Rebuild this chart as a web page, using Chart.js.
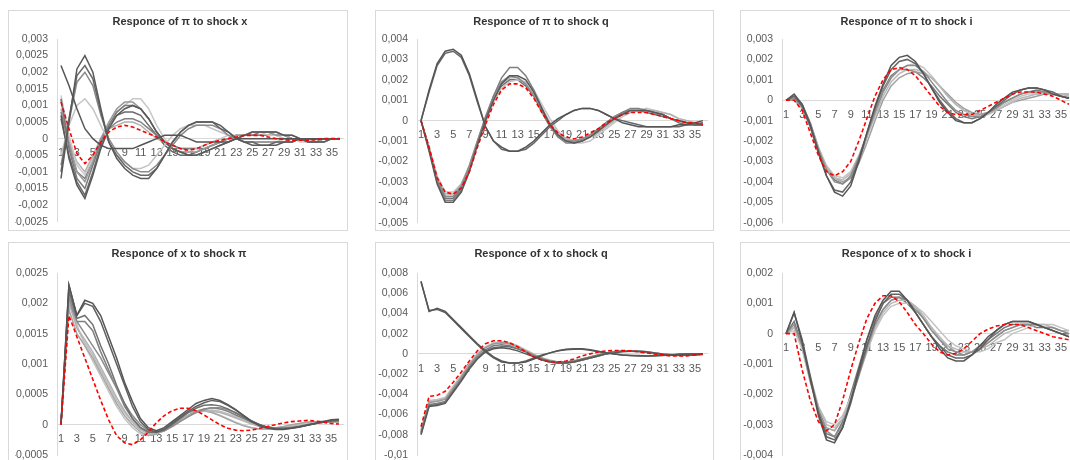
<!DOCTYPE html>
<html>
<head>
<meta charset="utf-8">
<script src="https://cdn.jsdelivr.net/npm/chart.js@4.4.1/dist/chart.umd.min.js"></script>
<style>
  body { margin: 0; background: #fff; width: 1070px; height: 460px; overflow: hidden; position: relative; }
  .frame { position: absolute; border: 1px solid #d9d9d9; box-sizing: border-box; }
  canvas { position: absolute; }
</style>
</head>
<body>
<div class="frame" style="left:8px;top:10px;width:340px;height:221px"></div>
<div class="frame" style="left:375px;top:10px;width:339px;height:221px"></div>
<div class="frame" style="left:740px;top:10px;width:338px;height:221px"></div>
<div class="frame" style="left:8px;top:242px;width:340px;height:230px"></div>
<div class="frame" style="left:375px;top:242px;width:339px;height:230px"></div>
<div class="frame" style="left:740px;top:242px;width:338px;height:230px"></div>
<canvas id="c1" width="340" height="227" style="left:8px;top:10px"></canvas>
<canvas id="c2" width="338" height="228" style="left:375px;top:10px"></canvas>
<canvas id="c3" width="338" height="228" style="left:740px;top:10px"></canvas>
<canvas id="c4" width="340" height="230" style="left:8px;top:242px"></canvas>
<canvas id="c5" width="338" height="230" style="left:375px;top:242px"></canvas>
<canvas id="c6" width="338" height="230" style="left:740px;top:242px"></canvas>
<script>
// periods 1..36
const periods = [1,2,3,4,5,6,7,8,9,10,11,12,13,14,15,16,17,18,19,20,21,22,23,24,25,26,27,28,29,30,31,32,33,34,35,36];

// all responses below are in units of 0.0001
const UNIT = 0.0001;

// responce of pi to shock x
const piX_gray = [
  [22,16,9,3,0,-2,-3,-3,-3,-3,-2,-1,0,1,1,1,0,-1,-1,-1,-1,-1,0,0,0,0,0,0,0,0,0,0,0,0,0,0],
  [-12,5,21,25,20,9,-1,-6,-9,-11,-12,-12,-9,-5,-1,2,4,5,5,5,4,2,0,-1,-2,-2,-2,-2,-1,-1,0,0,0,0,0,0],
  [-10,6,19,22,18,8,-1,-5,-8,-10,-11,-11,-9,-5,-1,2,4,5,5,5,3,2,0,-1,-1,-2,-2,-1,-1,-1,0,0,0,0,0,0],
  [-8,5,17,20,16,7,0,-4,-7,-9,-10,-10,-8,-5,-2,1,3,4,4,4,3,1,0,-1,-1,-1,-1,-1,-1,0,0,0,0,0,0,0],
  [-5,4,10,12,9,4,-1,-5,-7,-9,-9,-8,-5,-2,1,3,4,4,4,3,2,1,0,-1,-1,-1,-1,-1,0,0,0,0,0,0,0,0],
  [7,-6,-14,-18,-11,-3,3,7,9,10,9,6,2,-1,-3,-4,-5,-5,-4,-3,-2,-1,0,1,2,2,2,2,1,1,0,-1,-1,-1,0,0],
  [12,-3,-12,-15,-8,-1,4,8,10,10,9,6,2,-1,-3,-4,-5,-5,-4,-3,-2,-1,0,1,1,2,2,2,1,1,0,-1,-1,-1,0,0],
  [12,-1,-10,-13,-7,0,5,9,11,11,9,6,2,-1,-3,-4,-4,-4,-3,-2,-1,0,1,1,2,2,2,1,1,0,0,-1,-1,0,0,0],
  [13,1,-8,-11,-6,0,4,8,10,12,12,9,4,0,-3,-4,-4,-3,-2,-1,0,1,1,1,2,2,1,1,0,0,-1,-1,0,0,0,0],
  [8,-2,-10,-12,-6,0,3,5,6,6,5,3,1,-1,-2,-3,-3,-3,-3,-2,-1,0,0,1,1,1,1,1,1,0,0,0,-1,0,0,0],
  [9,-1,-7,-10,-5,0,3,4,5,5,4,2,0,-1,-2,-3,-3,-3,-2,-1,0,0,1,1,1,1,1,1,0,0,0,0,0,0,0,0],
  [6,-5,-13,-17,-10,-2,4,7,8,8,7,4,1,-2,-4,-5,-5,-4,-3,-2,-1,0,1,1,2,2,2,1,1,0,0,-1,-1,0,0,0]
];
const piX_red = [11,3,-4.5,-7.5,-5,-1,2,3.5,4,3.5,2.5,1.5,0.5,-1,-2,-3,-3.5,-3,-2,-1,-0.5,0,0.5,1,1,1,0.5,0,-0.3,-0.5,-0.5,-0.5,-0.3,0,0,0];
const piX_shades = ['#555555','#5a5a5a','#666666','#8a8a8a','#c4c4c4','#595959','#7a7a7a','#9a9a9a','#c8c8c8','#808080','#b0b0b0','#6a6a6a'];
const piX_ticks = [0.003,0.0025,0.002,0.0015,0.001,0.0005,0,-0.0005,-0.001,-0.0015,-0.002,-0.0025];

// responce of pi to shock q
const piQ_gray = [
  [0,15,28,34,35,32,23,10,-3,-10,-13,-15,-15,-13,-10,-6,-2,1,3,5,6,6,5,3,1,-1,-2,-3,-3,-3,-3,-3,-2,-2,-1,0],
  [0,14,27,33,34,31,22,9,-3,-10,-14,-15,-15,-14,-11,-7,-3,0,3,5,6,6,5,3,1,0,-1,-2,-3,-3,-3,-3,-3,-2,-2,-1],
  [0,-15,-31,-40,-40,-35,-25,-12,0,10,18,22,22,20,14,6,-2,-7,-10,-11,-10,-8,-5,-2,1,3,5,5,5,4,3,1,0,-1,-2,-2],
  [0,-14,-30,-39,-39,-34,-24,-11,1,12,21,26,26,22,15,6,-2,-8,-11,-11,-10,-8,-5,-2,1,4,6,6,5,4,3,1,0,-1,-2,-2],
  [0,-14,-29,-37,-37,-32,-22,-10,2,12,19,22,21,18,12,4,-3,-8,-10,-10,-9,-7,-4,-1,2,4,5,5,5,4,3,1,0,-1,-2,-2],
  [0,-13,-28,-36,-36,-31,-22,-10,1,11,18,21,21,18,13,6,-1,-6,-9,-10,-10,-8,-6,-3,0,3,4,5,5,5,4,3,1,0,-1,-1],
  [0,-13,-27,-35,-35,-31,-23,-12,-1,9,16,19,20,19,15,8,1,-5,-9,-11,-11,-10,-7,-4,-1,2,4,5,6,5,4,3,1,0,-1,-1],
  [0,-14,-29,-38,-38,-33,-23,-11,1,10,17,20,20,17,12,5,-2,-7,-9,-10,-9,-7,-4,-1,2,4,5,5,4,3,2,1,-1,-2,-2,-2]
];
const piQ_red = [0,-13,-28,-35,-36,-33,-25,-13,-2,8,15,18,18,16,11,4,-2,-6,-8,-9,-8,-6,-4,-1,1,3,4,4,4,3,2,1,0,-1,-1,-2];
const piQ_shades = ['#555555','#666666','#595959','#7f7f7f','#8c8c8c','#b3b3b3','#c4c4c4','#737373'];
const piQ_ticks = [0.004,0.003,0.002,0.001,0,-0.001,-0.002,-0.003,-0.004,-0.005];

// responce of pi to shock i
const piI_gray = [
  [0,3,-2,-12,-25,-37,-45,-47,-42,-30,-16,-3,8,17,21,22,19,13,6,-1,-6,-10,-11,-11,-9,-6,-2,1,4,5,6,6,5,3,2,1],
  [0,2,-3,-13,-26,-37,-44,-45,-40,-29,-16,-4,7,15,19,20,18,13,6,0,-5,-9,-11,-11,-9,-6,-3,0,3,5,6,6,5,4,2,1],
  [0,1,-3,-12,-24,-34,-40,-41,-37,-28,-17,-6,4,11,15,17,17,14,9,4,-1,-5,-7,-8,-8,-6,-4,-1,1,3,4,4,4,3,2,1],
  [0,1,-4,-13,-24,-33,-38,-39,-36,-28,-18,-8,2,9,13,15,15,14,11,7,2,-2,-5,-7,-8,-7,-5,-3,-1,1,2,3,3,3,3,2],
  [0,0,-4,-13,-24,-33,-38,-40,-38,-31,-21,-10,0,7,11,13,14,13,11,7,3,-1,-4,-6,-7,-6,-5,-3,-1,0,1,2,3,3,3,3],
  [0,1,-3,-12,-23,-32,-37,-38,-35,-27,-17,-6,4,11,15,17,18,16,12,7,2,-2,-5,-7,-7,-6,-4,-2,0,2,3,3,3,3,2,2],
  [0,2,-2,-11,-23,-33,-39,-41,-38,-30,-18,-6,5,12,15,15,14,11,7,2,-2,-6,-8,-9,-8,-6,-3,-1,1,3,4,5,4,3,2,1]
];
const piI_red = [0,0,-5,-16,-27,-35,-37,-35,-30,-20,-9,2,10,15,16,15,12,7,2,-3,-6,-7,-7,-7,-5,-3,-1,1,3,4,4,4,3,2,0,-2];
const piI_shades = ['#555555','#666666','#8c8c8c','#b8b8b8','#a0a0a0','#c4c4c4','#7a7a7a'];
const piI_ticks = [0.003,0.002,0.001,0,-0.001,-0.002,-0.003,-0.004,-0.005,-0.006];

// responce of x to shock pi
const xPi_gray = [
  [0,23,18,20.5,20,18,14.5,11,7,3.8,1,-0.5,-1,-0.5,0.5,1.5,2.5,3.5,4,4.3,4,3.3,2.5,1.5,0.5,-0.2,-0.6,-0.8,-0.8,-0.6,-0.4,-0.1,0.2,0.5,0.8,0.9],
  [0,23,18,20,19.5,17,13.5,10,6.5,3,0.5,-0.8,-1.2,-0.8,0.2,1.2,2.2,3,3.6,4,3.8,3.2,2.4,1.5,0.6,0,-0.5,-0.7,-0.7,-0.6,-0.4,-0.1,0.2,0.5,0.7,0.8],
  [0,22,17.5,18,16.5,13,10,6.5,3.5,1,-0.5,-1.2,-1.3,-0.8,0,1,2,2.7,3.2,3.3,3.1,2.6,1.9,1.2,0.5,0,-0.4,-0.6,-0.6,-0.5,-0.3,0,0.2,0.4,0.6,0.7],
  [0,21,17,15,13,11,8.5,6,3.5,1.5,0,-1,-1.3,-1,-0.3,0.5,1.3,2,2.5,2.8,2.8,2.5,2,1.3,0.6,0,-0.4,-0.6,-0.6,-0.5,-0.3,-0.1,0.2,0.4,0.5,0.6],
  [0,20,16,14,12,9.5,7,4.5,2.3,0.5,-0.8,-1.5,-1.5,-1,-0.2,0.7,1.5,2,2.2,2.2,2,1.6,1.1,0.6,0.1,-0.3,-0.5,-0.6,-0.5,-0.3,-0.1,0.1,0.3,0.4,0.5,0.5],
  [0,19,15,13,11,8.5,6,3.5,1.5,0,-1.2,-1.8,-1.6,-0.8,0.2,1.2,2,2.3,2.3,2,1.5,0.9,0.3,-0.2,-0.5,-0.7,-0.7,-0.5,-0.3,0,0.2,0.4,0.5,0.5,0.5,0.4],
  [0,22,16.5,13,10.5,8,5.5,3,1,-0.5,-1.5,-1.8,-1.3,-0.5,0.5,1.4,2,2.3,2.3,2,1.5,1,0.4,-0.1,-0.5,-0.7,-0.7,-0.6,-0.4,-0.1,0.2,0.4,0.5,0.6,0.6,0.5],
  [0,20,17,17,15.5,12,9,6,3,1,-0.5,-1.3,-1.4,-1,-0.2,0.7,1.5,2.2,2.6,2.8,2.6,2.2,1.6,1,0.4,-0.1,-0.4,-0.6,-0.6,-0.5,-0.3,0,0.2,0.4,0.6,0.7],
  [0,21,16,13.5,11.5,9,6.5,4,2,0.5,-0.8,-1.5,-1.4,-0.8,0,0.9,1.6,2.1,2.3,2.4,2.2,1.8,1.3,0.7,0.2,-0.2,-0.5,-0.6,-0.5,-0.4,-0.2,0,0.2,0.4,0.5,0.5]
];
const xPi_red = [0,18,14.5,11,7.5,4,0.8,-1.8,-3,-3.3,-2.5,-1.2,0.3,1.5,2.3,2.7,2.7,2.3,1.6,0.8,0,-0.6,-0.9,-1,-0.9,-0.6,-0.3,0,0.3,0.5,0.6,0.7,0.6,0.4,0.2,0.1];
const xPi_shades = ['#555555','#5f5f5f','#707070','#8c8c8c','#b3b3b3','#a6a6a6','#c4c4c4','#7f7f7f','#bdbdbd'];
const xPi_ticks = [0.0025,0.002,0.0015,0.001,0.0005,0,-0.0005];

// responce of x to shock q
const xQ_gray = [
  [72,42,45,42,34,26,18,10,3,-3,-7,-9,-9,-8,-5,-2,1,3,4.5,5,5,4,2.5,1,0,-1,-1.5,-2,-2,-2,-1.5,-1,-0.5,0,0,0],
  [71,43,44,41,33,25,17,9,2,-4,-8,-9,-9,-7,-4,-1,1,3,4,4.5,4.5,3.5,2,1,0,-1,-1.5,-1.5,-2,-1.5,-1,-1,0,0,0,0],
  [-80,-52,-51,-49,-38,-27,-15,-5,2,5,6,5,3,0,-3,-6,-8,-9,-9,-8,-6,-4,-2,0,1,2,2.5,2.5,2,1,0,-1,-1,-1,-1,-0.5],
  [-78,-50,-49,-47,-36,-25,-13,-3,4,8,9,8,5,2,-2,-5,-7,-8,-8,-7,-5,-3,-1,1,2,2.5,2.5,2,1.5,0.5,-0.5,-1,-1,-1,-0.5,0],
  [-77,-48,-47,-45,-34,-23,-11,-1,6,10,11,10,7,3,-1,-4,-7,-8,-8,-7,-5,-3,-1,1,2,3,3,2.5,1.5,0.5,-0.5,-1,-1.5,-1,-0.5,0],
  [-75,-46,-45,-43,-32,-21,-10,0,7,11,12,11,8,4,0,-4,-6,-8,-8,-7,-5,-3,-1,1,2,3,3,3,2,1,0,-1,-1.5,-1.5,-1,0],
  [-76,-47,-46,-44,-33,-22,-10,0,7,10,11,10,7,3,-1,-5,-7,-8,-8,-7,-6,-4,-2,0,2,3,3,2.5,2,1,0,-1,-1,-1,-1,0],
  [-79,-51,-50,-48,-37,-26,-14,-4,3,6,7,7,5,2,-2,-5,-8,-9,-9,-8,-6,-4,-2,0,1.5,2.5,3,2.5,2,1,0,-0.5,-1,-1,-0.5,0]
];
const xQ_red = [-72,-42,-41,-37,-28,-18,-7,3,10,13,13,11,7,2,-3,-6,-8,-8,-7,-5,-2,0,2,3,3.3,3.3,3,2,1,0,-1,-2,-2,-2,-1,0];
const xQ_shades = ['#555555','#606060','#595959','#7a7a7a','#999999','#c0c0c0','#adadad','#6a6a6a'];
const xQ_ticks = [0.008,0.006,0.004,0.002,0,-0.002,-0.004,-0.006,-0.008,-0.01];

// responce of x to shock i
const xI_gray = [
  [0,7,-3,-15,-27,-35,-36,-31,-22,-12,-2,6,11,14,14,11,7,3,-1,-5,-8,-9,-9,-7,-4,-1,1,3,4,4,4,3,2,1,0,-1],
  [0,7,-2,-14,-26,-34,-35,-31,-23,-13,-4,4,10,13,13,11,7,3,-1,-4,-7,-8,-8,-7,-5,-2,1,3,4,4,4,3,2,1,0,-1],
  [0,3,-4,-15,-25,-32,-34,-30,-22,-14,-5,3,8,11,12,11,8,5,1,-2,-5,-6,-7,-6,-5,-3,-1,1,2,3,3,3,2,2,1,0],
  [0,2,-4,-14,-24,-30,-31,-28,-22,-14,-6,2,7,10,11,11,9,6,2,-1,-4,-5,-6,-6,-5,-4,-2,0,1,2,3,3,3,2,1,1],
  [0,1,-5,-15,-24,-29,-30,-27,-21,-13,-6,1,6,9,10,10,9,7,4,1,-2,-4,-5,-6,-6,-5,-3,-2,0,1,2,3,3,3,2,1],
  [0,4,-4,-15,-26,-33,-34,-29,-20,-11,-2,5,10,12,12,10,7,3,-1,-4,-6,-7,-7,-6,-4,-2,0,2,3,3,3,2,2,1,0,0],
  [0,2,-5,-16,-25,-31,-32,-28,-21,-12,-4,3,8,11,12,11,9,5,2,-2,-4,-6,-6,-6,-5,-3,-1,1,2,3,3,3,2,2,1,0]
];
const xI_red = [0,0,-12,-22,-29,-32,-30,-22,-12,-3,5,10,12.5,12.5,10.5,7,3,0,-3.5,-6,-7,-6.5,-5,-2.5,0,1.5,2.5,3,3,3,2,1,0,-1,-1.5,-2];
const xI_shades = ['#555555','#636363','#8c8c8c','#b8b8b8','#c4c4c4','#777777','#a3a3a3'];
const xI_ticks = [0.002,0.001,0,-0.001,-0.002,-0.003,-0.004];

Chart.defaults.font.family = "'Liberation Sans', Arial, sans-serif";
Chart.defaults.animation = false;

function commaNum(v) {
  return String(Number(v.toFixed(6))).replace('.', ',');
}

function drawPanel(canvasId, title, grays, red, shades, yTicks, pad) {
  const datasets = [{
    data: red.map(v => v * UNIT),
    borderColor: '#ff0000',
    borderWidth: 1.6,
    borderDash: [4, 2.5],
    pointRadius: 0,
    fill: false
  }];
  grays.forEach((s, k) => {
    datasets.push({
      data: s.map(v => v * UNIT),
      borderColor: shades[k],
      borderWidth: 1.5,
      pointRadius: 0,
      fill: false
    });
  });

  new Chart(document.getElementById(canvasId), {
    type: 'line',
    data: { labels: periods, datasets: datasets },
    options: {
      responsive: false,
      devicePixelRatio: 1,
      layout: { padding: { left: pad.l, right: pad.r, top: 0, bottom: pad.b } },
      plugins: {
        legend: { display: false },
        tooltip: { enabled: false },
        title: {
          display: true,
          text: title,
          color: '#333333',
          font: { size: 11, weight: 'bold', lineHeight: '14px' },
          padding: { top: 5, bottom: pad.t }
        }
      },
      scales: {
        x: {
          type: 'category',
          position: { y: 0 },
          offset: true,
          afterFit: s => { s.height = 0; },
          grid: { display: false, drawTicks: false },
          border: { display: true, color: '#d9d9d9', width: 1 },
          ticks: {
            autoSkip: false,
            maxRotation: 0,
            padding: 8,
            color: '#595959',
            font: { size: 11 },
            callback: (val, idx) => idx % 2 === 0 ? String(periods[idx]) : ''
          }
        },
        y: {
          min: yTicks[yTicks.length - 1],
          max: yTicks[0],
          afterFit: s => { s.width = 42; },
          afterBuildTicks: s => { s.ticks = yTicks.slice().reverse().map(v => ({ value: v })); },
          grid: { display: false, drawTicks: false },
          border: { display: true, color: '#d9d9d9', width: 1 },
          ticks: {
            padding: 9,
            color: '#595959',
            font: { size: 10.5 },
            callback: v => commaNum(v)
          }
        }
      }
    }
  });
}

drawPanel('c1', 'Responce of π to shock x', piX_gray, piX_red, piX_shades, piX_ticks, { l: 7, r: 3, b: 11, t: 10 });
drawPanel('c2', 'Responce of π to shock q', piQ_gray, piQ_red, piQ_shades, piQ_ticks, { l: 0, r: 6, b: 10, t: 10 });
drawPanel('c3', 'Responce of π to shock i', piI_gray, piI_red, piI_shades, piI_ticks, { l: 0, r: 5, b: 10, t: 10 });
drawPanel('c4', 'Responce of x to shock π', xPi_gray, xPi_red, xPi_shades, xPi_ticks, { l: 7, r: 5, b: 17, t: 12 });
drawPanel('c5', 'Responce of x to shock q', xQ_gray, xQ_red, xQ_shades, xQ_ticks, { l: 0, r: 6, b: 17, t: 12 });
drawPanel('c6', 'Responce of x to shock i', xI_gray, xI_red, xI_shades, xI_ticks, { l: 0, r: 5, b: 17, t: 12 });
</script>
</body>
</html>
